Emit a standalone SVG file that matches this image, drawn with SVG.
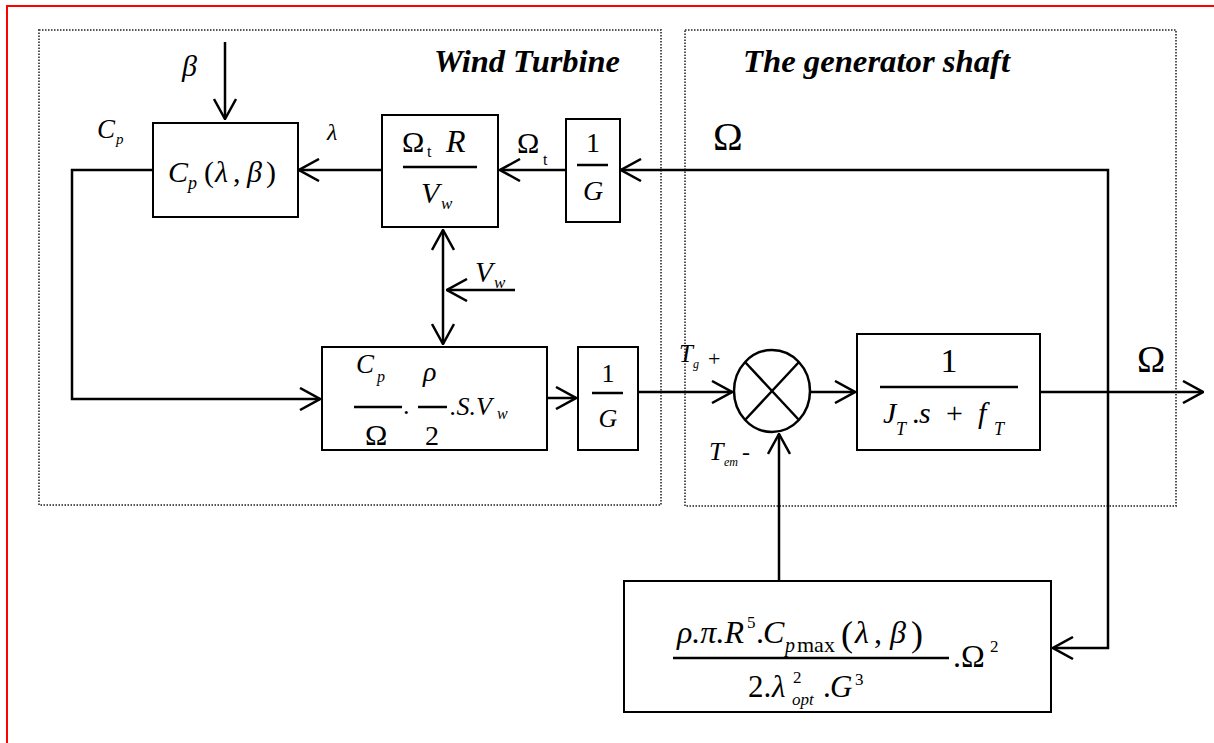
<svg xmlns="http://www.w3.org/2000/svg" width="1214" height="743" viewBox="0 0 1214 743">
<style>
.box{fill:#fff;stroke:#000;stroke-width:2}
.wire{fill:none;stroke:#000;stroke-width:2.5}
.dot{fill:none;stroke:#555;stroke-width:2;stroke-dasharray:1.5 1.5}
.frac{stroke:#000;stroke-width:2.5}
text{font-family:"Liberation Serif","Times New Roman",serif;fill:#000}
.i{font-style:italic}
.u{font-style:normal}
.title{font-style:italic;font-weight:bold;font-size:31px}
</style>
<defs>
<marker id="ah" viewBox="0 0 22 24" refX="21" refY="12" markerWidth="22" markerHeight="24" markerUnits="userSpaceOnUse" orient="auto">
<path d="M1,1 L21,12 L1,23" fill="none" stroke="#000" stroke-width="2.5"/>
</marker>
<marker id="ahs" viewBox="0 0 22 24" refX="21" refY="12" markerWidth="22" markerHeight="24" markerUnits="userSpaceOnUse" orient="auto-start-reverse">
<path d="M1,1 L21,12 L1,23" fill="none" stroke="#000" stroke-width="2.5"/>
</marker>
</defs>
<rect width="1214" height="743" fill="#fff"/>
<path d="M7,743 L7,6 L1214,6" fill="none" stroke="#f00" stroke-width="2"/>

<g id="wind-turbine-frame">
<rect class="dot" x="39" y="30" width="622" height="475"/>
<text class="title" x="434" y="72" textLength="186" lengthAdjust="spacingAndGlyphs">Wind Turbine</text>
</g>
<g id="generator-shaft-frame">
<rect class="dot" x="685" y="30" width="491" height="476"/>
<text class="title" x="743" y="72" textLength="267" lengthAdjust="spacingAndGlyphs">The generator shaft</text>
</g>

<g id="connectors">
<path class="wire" d="M225,42 L225,119" marker-end="url(#ah)"/>
<path class="wire" d="M382,170 L299,170" marker-end="url(#ah)"/>
<path class="wire" d="M566,170 L500,170" marker-end="url(#ah)"/>
<path class="wire" d="M1108,392 L1108,170 L621,170" marker-end="url(#ah)"/>
<path class="wire" d="M153,170 L72,170 L72,399 L320,399" marker-end="url(#ah)"/>
<path class="wire" d="M547,398 L576,398" marker-end="url(#ah)"/>
<path class="wire" d="M638,392 L732,392" marker-end="url(#ah)"/>
<path class="wire" d="M811,392 L855,392" marker-end="url(#ah)"/>
<path class="wire" d="M1040,392 L1203,392" marker-end="url(#ah)"/>
<path class="wire" d="M779,581 L779,434" marker-end="url(#ah)"/>
<path class="wire" d="M1108,392 L1108,648 L1053,648" marker-end="url(#ah)"/>
<path class="wire" d="M515,290 L447,290" marker-end="url(#ah)"/>
<path class="wire" d="M443,230 L443,344" marker-start="url(#ahs)" marker-end="url(#ah)"/>
</g>

<g id="labels">
<text class="i" x="182" y="76" font-size="30">β</text>
<text class="i" x="97" y="138" font-size="27">C<tspan font-size="15" x="116" y="144">p</tspan></text>
<text class="i" x="327" y="140" font-size="24">λ</text>
<text font-size="30" x="517" y="153">Ω<tspan font-size="16" x="543" y="165">t</tspan></text>
<text font-size="40" x="713" y="150">Ω</text>
<text font-size="38" x="1137" y="372">Ω</text>
<text class="i" font-size="29" x="475" y="282">V<tspan font-size="17" x="494" y="288">w</tspan></text>
<text class="i" font-size="25" x="679" y="362">T<tspan font-size="12" x="693" y="368">g</tspan><tspan class="u" font-size="22" x="708" y="366">+</tspan></text>
<text class="i" font-size="26" x="709" y="460">T<tspan font-size="12" x="724" y="466">em</tspan><tspan class="u" font-size="24" x="742" y="460">-</tspan></text>
</g>

<g id="cp-block">
<rect class="box" x="153" y="123" width="145" height="94"/>
<text class="i" font-size="30" x="168" y="182">C<tspan font-size="18" x="188" y="189">p</tspan><tspan class="u" x="204" y="182">(</tspan><tspan x="215" y="182">λ</tspan><tspan class="u" x="233" y="182">,</tspan><tspan x="247" y="182">β</tspan><tspan class="u" x="266" y="182">)</tspan></text>
</g>

<g id="lambda-block">
<rect class="box" x="382" y="115" width="116" height="112"/>
<text font-size="30" x="402" y="152">Ω<tspan font-size="16" x="427" y="157">t</tspan><tspan class="i" font-size="32" x="446" y="152">R</tspan></text>
<line class="frac" x1="403" y1="167" x2="477" y2="167"/>
<text class="i" font-size="30" x="421" y="203">V<tspan font-size="17" x="441" y="209">w</tspan></text>
</g>

<g id="gain-1-over-G-top">
<rect class="box" x="566" y="119" width="54" height="103"/>
<text font-size="28" x="593" y="152" text-anchor="middle">1</text>
<line class="frac" x1="577" y1="165" x2="608" y2="165"/>
<text class="i" font-size="28" x="593" y="200" text-anchor="middle">G</text>
</g>

<g id="torque-block">
<rect class="box" x="322" y="347" width="225" height="103"/>
<text class="i" font-size="27" x="356" y="373">C<tspan font-size="16" x="377" y="382">p</tspan></text>
<line class="frac" x1="354" y1="407" x2="402" y2="407"/>
<text font-size="30" x="365" y="445">Ω</text>
<text font-size="26" x="403" y="414">.</text>
<text class="i" font-size="28" x="423" y="381">ρ</text>
<line class="frac" x1="418" y1="407" x2="447" y2="407"/>
<text font-size="28" x="425" y="445">2</text>
<text class="i" font-size="26" x="450" y="415">.S.V<tspan font-size="16" x="497" y="419">w</tspan></text>
</g>

<g id="gain-1-over-G-bottom">
<rect class="box" x="578" y="347" width="60" height="103"/>
<text font-size="26" x="608" y="382" text-anchor="middle">1</text>
<line class="frac" x1="592" y1="393" x2="623" y2="393"/>
<text class="i" font-size="26" x="608" y="427" text-anchor="middle">G</text>
</g>

<g id="summing-junction">
<ellipse cx="772" cy="391" rx="38" ry="41" fill="#fff" stroke="#000" stroke-width="2.5"/>
<path d="M745,362 L799,420 M799,362 L745,420" stroke="#000" stroke-width="2.5"/>
</g>

<g id="shaft-block">
<rect class="box" x="857" y="334" width="183" height="116"/>
<text font-size="34" x="949" y="372" text-anchor="middle">1</text>
<line class="frac" x1="880" y1="387" x2="1018" y2="387"/>
<text class="i" font-size="30" x="883" y="423">J<tspan font-size="18" x="896" y="435">T</tspan><tspan class="u" x="912" y="423">.</tspan><tspan x="919" y="423">s</tspan><tspan class="u" x="946" y="423">+</tspan><tspan x="978" y="423">f</tspan><tspan font-size="18" x="994" y="435">T</tspan></text>
</g>

<g id="mppt-block">
<rect class="box" x="624" y="581" width="427" height="131"/>
<text class="i" font-size="32" x="677" y="643">ρ.π.R<tspan class="u" font-size="17" x="747" y="628">5</tspan><tspan class="u" x="756" y="643">.</tspan><tspan x="763" y="643">C</tspan><tspan font-size="20" x="785" y="652">p</tspan><tspan class="u" font-size="22" x="797" y="652">max</tspan><tspan class="u" font-size="36" x="841" y="646">(</tspan><tspan x="855" y="643">λ</tspan><tspan class="u" x="874" y="643">,</tspan><tspan x="890" y="643">β</tspan><tspan class="u" font-size="36" x="911" y="646">)</tspan></text>
<line class="frac" x1="673" y1="658" x2="949" y2="658"/>
<text font-size="31" x="748" y="697">2.<tspan class="i" x="772" y="697">λ</tspan><tspan font-size="17" x="793" y="683">2</tspan><tspan class="i" font-size="17" x="792" y="705">opt</tspan><tspan x="823" y="697">.</tspan><tspan class="i" x="830" y="697">G</tspan><tspan font-size="17" x="855" y="685">3</tspan></text>
<text font-size="32" x="953" y="667">.Ω<tspan font-size="17" x="990" y="652">2</tspan></text>
</g>
</svg>
